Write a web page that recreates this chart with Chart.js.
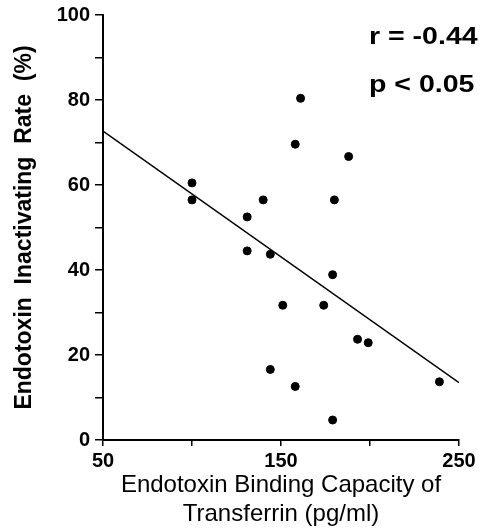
<!DOCTYPE html>
<html>
<head>
<meta charset="utf-8">
<script src="https://cdn.jsdelivr.net/npm/chart.js@4.4.1/dist/chart.umd.min.js"></script>
<style>
html,body{margin:0;padding:0;background:#fff;}
#wrap{width:487px;height:529px;position:relative;}
</style>
</head>
<body>
<div id="wrap"><canvas id="c" width="487" height="529"></canvas></div>
<script>
// Data
const xValues = [100, 100, 131, 140, 131, 144, 161, 158, 188, 180, 179, 151, 174, 193, 199, 239, 144, 158, 179];
const yValues = [60.5, 56.5, 52.5, 56.5, 44.5, 43.7, 80.4, 69.6, 66.7, 56.5, 38.9, 31.7, 31.7, 23.7, 22.9, 13.7, 16.6, 12.6, 4.7];
const fitX = [50, 250];
const fitY = [72.7, 13.5];
const xTickLabels = [50, 150, 250];
const yTickLabels = [0, 20, 40, 60, 80, 100];
const annotations = ['r = -0.44', 'p < 0.05'];
const xTitle = ['Endotoxin Binding Capacity of', 'Transferrin (pg/ml)'];
const yTitle = 'Endotoxin  Inactivating  Rate  (%)';

const points = xValues.map((x, i) => ({x: x, y: yValues[i]}));
const fitLine = fitX.map((x, i) => ({x: x, y: fitY[i]}));

const textPlugin = {
  id: 'statText',
  afterDraw(chart) {
    const ctx = chart.ctx;
    ctx.save();
    ctx.fillStyle = '#000';
    ctx.font = 'bold 23px "Liberation Sans", Arial, sans-serif';
    ctx.textAlign = 'left';
    ctx.textBaseline = 'alphabetic';
    ctx.translate(369, 0);
    ctx.scale(1.24, 1);
    ctx.fillText(annotations[0], 0, 44);
    ctx.fillText(annotations[1], 0, 92);
    ctx.restore();
  }
};

new Chart(document.getElementById('c'), {
  type: 'scatter',
  data: {
    datasets: [
      {
        data: points,
        backgroundColor: '#000',
        borderColor: '#000',
        pointRadius: 4,
        pointHoverRadius: 4,
        showLine: false
      },
      {
        type: 'line',
        data: fitLine,
        borderColor: '#000',
        borderWidth: 1.5,
        pointRadius: 0,
        fill: false,
        tension: 0
      }
    ]
  },
  options: {
    responsive: false,
    animation: false,
    events: [],
    layout: {padding: {left: 0, right: 28, top: 15, bottom: 0}},
    plugins: {legend: {display: false}, tooltip: {enabled: false}},
    scales: {
      x: {
        type: 'linear',
        min: 50, max: 250,
        afterFit(s) { s.height = 89; s.paddingLeft = 0; s.paddingRight = 0; },
        border: {display: true, color: '#000', width: 2},
        grid: {display: true, drawOnChartArea: false, drawTicks: true, tickLength: 6, color: '#000', lineWidth: 1.5},
        ticks: {
          stepSize: 50,
          autoSkip: false,
          maxRotation: 0,
          padding: 3,
          color: '#000',
          font: {family: '"Liberation Sans", Arial, sans-serif', size: 20, weight: 'bold'},
          callback: v => xTickLabels.includes(v) ? String(v) : ''
        },
        title: {
          display: true,
          text: xTitle,
          color: '#000',
          font: {family: '"Liberation Sans", Arial, sans-serif', size: 24},
          lineHeight: 0.92,
          padding: {top: 2, bottom: 0}
        }
      },
      y: {
        type: 'linear',
        min: 0, max: 100,
        afterFit(s) { s.width = 103; s.paddingTop = 0; s.paddingBottom = 0; },
        border: {display: true, color: '#000', width: 2},
        grid: {display: true, drawOnChartArea: false, drawTicks: true, tickLength: 8, color: '#000', lineWidth: 1.5},
        ticks: {
          stepSize: 10,
          autoSkip: false,
          padding: 5,
          color: '#000',
          font: {family: '"Liberation Sans", Arial, sans-serif', size: 20, weight: 'bold'},
          callback: v => yTickLabels.includes(v) ? String(v) : ''
        },
        title: {
          display: true,
          text: yTitle,
          color: '#000',
          font: {family: '"Liberation Sans", Arial, sans-serif', size: 23, weight: 'bold'},
          padding: {top: 11, bottom: 0}
        }
      }
    }
  },
  plugins: [textPlugin]
});
</script>
</body>
</html>
